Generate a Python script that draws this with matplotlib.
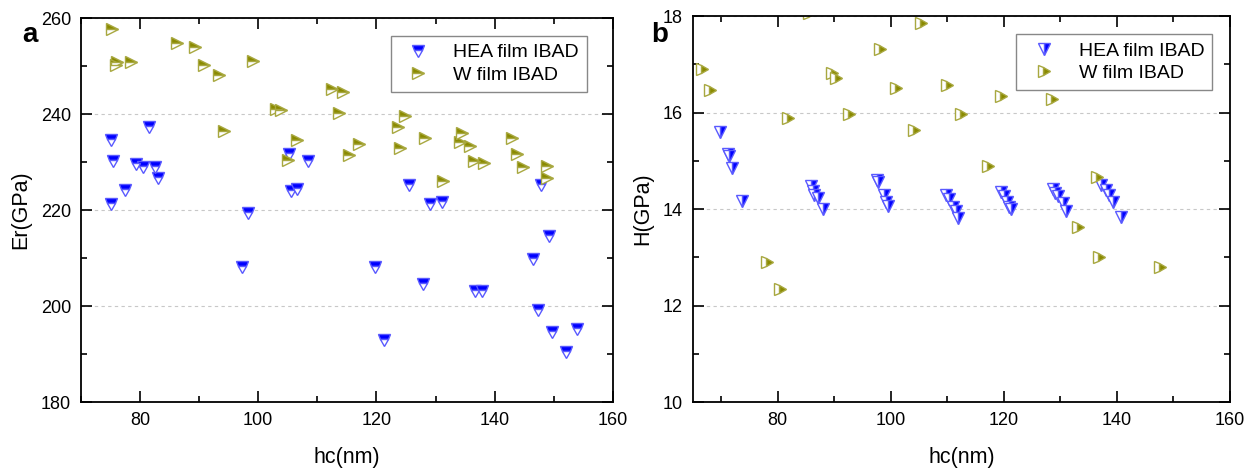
import matplotlib
matplotlib.use("Agg")
import matplotlib.pyplot as plt
from matplotlib.ticker import MultipleLocator

plt.rcParams["font.family"] = ["Liberation Sans", "DejaVu Sans"]

# panel a: reduced modulus vs contact depth
hea_hc_a = [75.1, 75.4, 75.1, 77.5, 79.3, 80.5, 81.5, 82.5, 83.1, 98.3, 97.3, 105.2,
            105.5, 106.6, 108.4, 119.7, 121.3, 125.5, 127.9, 129.0, 131.1, 136.7,
            137.8, 147.8, 146.5, 149.2, 147.3, 149.7, 152.1, 153.9]
hea_er = [234.6, 230.2, 221.3, 224.2, 229.6, 229.0, 237.3, 229.0, 226.7, 219.4, 208.1, 231.7,
          224.0, 224.4, 230.2, 208.1, 192.9, 225.2, 204.6, 221.3, 221.7, 203.1,
          203.1, 225.2, 209.8, 214.6, 199.2, 194.6, 190.4, 195.2]
w_hc_a = [75.3, 76.1, 76.0, 78.5, 86.3, 89.3, 90.8, 93.4, 94.2, 99.1, 103.0, 103.9,
          106.6, 105.0, 112.5, 114.3, 113.7, 115.3, 117.0, 123.6, 124.8, 124.0,
          128.2, 131.2, 134.4, 134.1, 135.8, 136.5, 138.2, 142.9, 143.8, 144.8,
          148.8, 148.8]
w_er = [257.7, 250.9, 250.2, 250.9, 254.8, 254.0, 250.2, 248.1, 236.5, 251.0, 241.0, 240.8,
        234.6, 230.4, 245.2, 244.6, 240.2, 231.5, 233.8, 237.3, 239.6, 232.9,
        235.0, 226.0, 236.0, 234.2, 233.3, 230.2, 229.8, 235.0, 231.7, 229.0,
        229.2, 226.7]

# panel b: hardness vs contact depth
hea_hc_b = [69.9, 71.2, 71.5, 72.0, 73.8, 86.0, 86.2, 86.4, 87.1, 88.0, 97.5, 97.7,
            98.8, 99.1, 99.5, 109.7, 110.3, 111.0, 111.5, 111.9, 119.5, 120.0,
            120.5, 120.9, 121.2, 128.7, 129.1, 129.6, 130.4, 131.0, 137.2, 138.0,
            138.6, 139.3, 140.7]
hea_h = [15.60, 15.13, 15.10, 14.86, 14.17, 14.48, 14.38, 14.30, 14.22, 13.99, 14.60, 14.55,
         14.28, 14.15, 14.07, 14.28, 14.20, 14.05, 13.95, 13.82, 14.36, 14.26,
         14.15, 14.05, 14.00, 14.42, 14.34, 14.26, 14.13, 13.95, 14.50, 14.40,
         14.30, 14.15, 13.84]
w_hc_b = [66.7, 68.0, 78.2, 80.4, 81.8, 85.5, 89.7, 90.3, 92.6, 98.1, 100.9, 104.2,
          105.3, 109.9, 112.4, 117.2, 119.5, 128.5, 133.1, 136.5, 136.8, 147.6]
w_h = [16.90, 16.47, 12.91, 12.35, 15.89, 18.06, 16.82, 16.72, 15.97, 17.32, 16.51, 15.64,
       17.86, 16.57, 15.97, 14.90, 16.35, 16.28, 13.62, 14.67, 13.00, 12.79]

HEA_FILL = "#0000ff"
HEA_EDGE = "#5a5aff"
W_FILL = "#8a8a00"
W_EDGE = "#a8a840"


def style_axes(ax, xlim, ylim, xmaj, ymaj):
    ax.set_xlim(*xlim)
    ax.set_ylim(*ylim)
    ax.xaxis.set_major_locator(MultipleLocator(xmaj))
    ax.xaxis.set_minor_locator(MultipleLocator(xmaj / 2))
    ax.yaxis.set_major_locator(MultipleLocator(ymaj))
    ax.yaxis.set_minor_locator(MultipleLocator(ymaj / 2))
    ax.tick_params(which="both", direction="in", top=True, right=True, width=1.2, labelsize=13)
    ax.tick_params(which="major", length=8, pad=7)
    ax.tick_params(which="minor", length=4.5)
    for sp in ax.spines.values():
        sp.set_linewidth(1.3)
    ax.yaxis.grid(True, linestyle=(0, (3, 3)), color="#c8c8c8", linewidth=0.8)
    ax.set_axisbelow(True)
    ax.set_xlabel("hc(nm)", fontsize=15.5, labelpad=13)


def draw_panel(ax, hx, hy, wx, wy, fill):
    ax.plot(hx, hy, ls="none", marker="v", markersize=9, fillstyle=fill,
            markerfacecolor=HEA_FILL, markerfacecoloralt="white",
            markeredgecolor=HEA_EDGE, markeredgewidth=1.0, label="HEA film IBAD")
    ax.plot(wx, wy, ls="none", marker=">", markersize=9, fillstyle=fill,
            markerfacecolor=W_FILL, markerfacecoloralt="white",
            markeredgecolor=W_EDGE, markeredgewidth=1.0, label="W film IBAD")


def add_legend(ax, right, top):
    ax.legend(loc="upper right", bbox_to_anchor=(right, top), fontsize=14, fancybox=False,
              edgecolor="#888888", framealpha=1, borderaxespad=0, handletextpad=0.8,
              borderpad=0.4, labelspacing=0.25)


fig = plt.figure(figsize=(12.56, 4.68), dpi=100)

ax1 = fig.add_axes([0.0643, 0.141, 0.4237, 0.8205])
draw_panel(ax1, hea_hc_a, hea_er, w_hc_a, w_er, "top")
style_axes(ax1, (70, 160), (180, 260), 20, 20)
ax1.set_ylabel("Er(GPa)", fontsize=15.5, labelpad=7)
add_legend(ax1, 0.951, 0.953)

ax2 = fig.add_axes([0.5515, 0.141, 0.4278, 0.8248])
draw_panel(ax2, hea_hc_b, hea_h, w_hc_b, w_h, "right")
style_axes(ax2, (65, 160), (10, 18), 20, 2)
ax2.set_ylabel("H(GPa)", fontsize=15.5, labelpad=7)
add_legend(ax2, 0.9665, 0.953)

fig.text(30 / 1256, 1 - 35 / 468, "a", fontsize=20, fontweight="bold", ha="center", va="center")
fig.text(660 / 1256, 1 - 35 / 468, "b", fontsize=20, fontweight="bold", ha="center", va="center")

fig.savefig("out.png", dpi=100)
